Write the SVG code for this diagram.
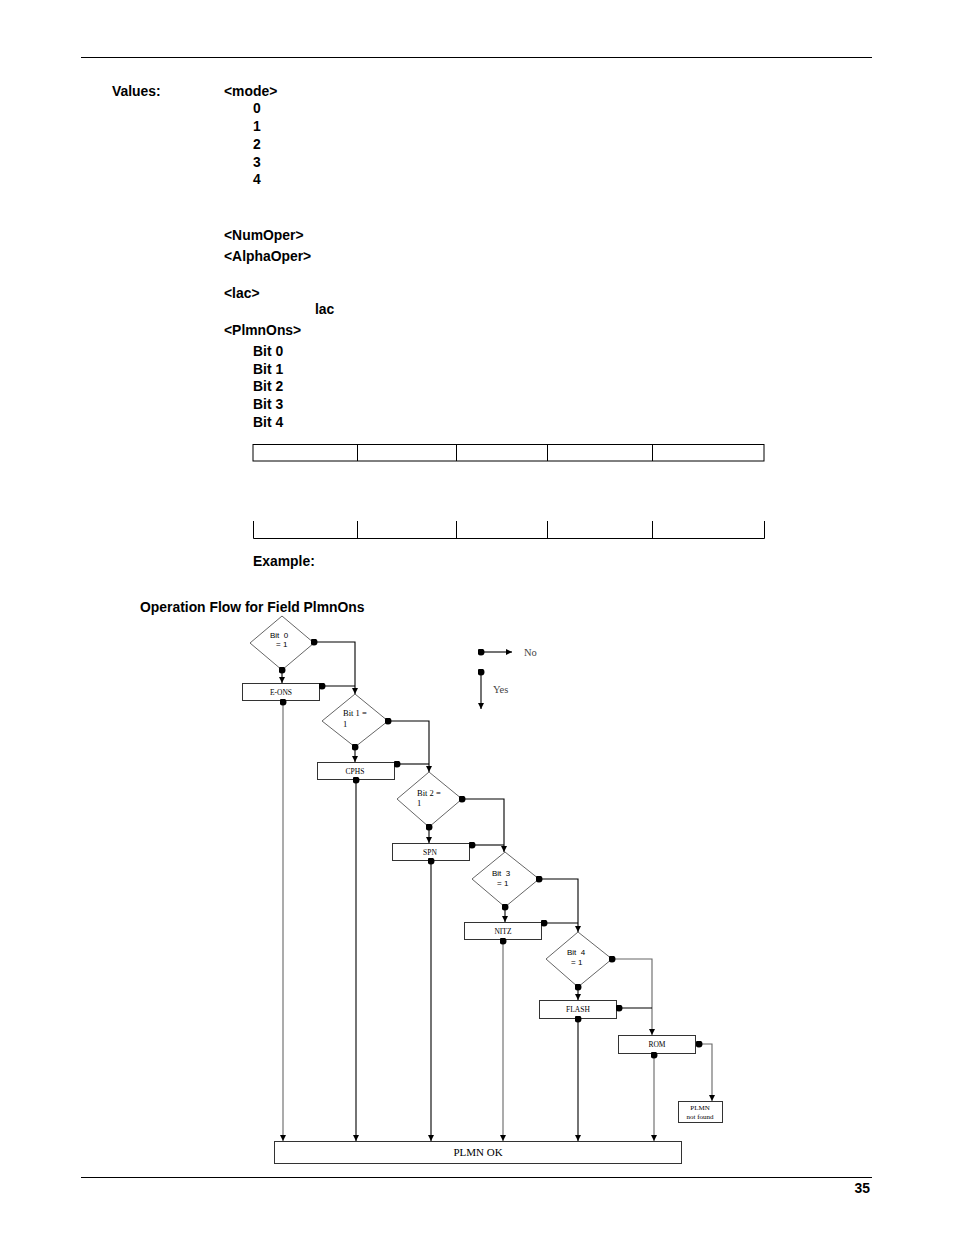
<svg xmlns="http://www.w3.org/2000/svg" width="954" height="1235" viewBox="0 0 954 1235">
<style>
.b{font-family:"Liberation Sans",Arial,sans-serif;font-weight:bold;font-size:13.9px;fill:#000}
.box{fill:#fff;stroke:#333;stroke-width:1}
.dia{fill:#fff;stroke:#666;stroke-width:1}
.bt{font-family:"Liberation Serif","Times New Roman",serif;font-size:7.5px;fill:#000;text-anchor:middle}
.ds{font-family:"Liberation Sans",Arial,sans-serif;font-size:8px;fill:#000;white-space:pre}
.dsr{font-family:"Liberation Serif","Times New Roman",serif;font-size:8.5px;fill:#000}
.lg{font-family:"Liberation Serif","Times New Roman",serif;font-size:10.5px;fill:#444}
.c{fill:none;stroke:#000;stroke-width:1.1}
.g{stroke:#666}
.t{fill:none;stroke:#000;stroke-width:1}
</style>
<defs>
<marker id="arr" viewBox="0 0 6 6" refX="6" refY="3" markerWidth="6" markerHeight="6" markerUnits="userSpaceOnUse" orient="auto"><path d="M0,0 L6,3 L0,6 z" fill="#000"/></marker>
<marker id="dot" viewBox="0 0 8 8" refX="4" refY="4" markerWidth="7" markerHeight="7" markerUnits="userSpaceOnUse" orient="auto"><circle cx="4" cy="4" r="4" fill="#000"/></marker>
</defs>
<rect width="954" height="1235" fill="#fff"/>
<g id="page">
<line x1="81" y1="57.5" x2="872" y2="57.5" stroke="#000" stroke-width="1.2"/>
<line x1="81" y1="1177.5" x2="872" y2="1177.5" stroke="#000" stroke-width="1.2"/>
<text class="b" x="870" y="1193" text-anchor="end">35</text>
<text class="b" x="112" y="96">Values:</text>
<text class="b" x="224" y="96">&lt;mode&gt;</text>
<text class="b" x="253" y="113">0</text>
<text class="b" x="253" y="131">1</text>
<text class="b" x="253" y="149">2</text>
<text class="b" x="253" y="167">3</text>
<text class="b" x="253" y="184">4</text>
<text class="b" x="224" y="240">&lt;NumOper&gt;</text>
<text class="b" x="224" y="261">&lt;AlphaOper&gt;</text>
<text class="b" x="224" y="298">&lt;lac&gt;</text>
<text class="b" x="315" y="314">lac</text>
<text class="b" x="224" y="335">&lt;PlmnOns&gt;</text>
<text class="b" x="253" y="356">Bit 0</text>
<text class="b" x="253" y="374">Bit 1</text>
<text class="b" x="253" y="391">Bit 2</text>
<text class="b" x="253" y="409">Bit 3</text>
<text class="b" x="253" y="427">Bit 4</text>
<rect class="t" x="253" y="444.5" width="511" height="16.5"/>
<path class="t" d="M357.5,444.5V461 M456.5,444.5V461 M547.5,444.5V461 M652.5,444.5V461"/>
<path class="t" d="M253.5,521V538.5H764.5V521 M357.5,521V538.5 M456.5,521V538.5 M547.5,521V538.5 M652.5,521V538.5"/>
<text class="b" x="253" y="566">Example:</text>
<text class="b" x="140" y="612">Operation Flow for Field PlmnOns</text>
</g>
<g id="legend">
<text class="lg" x="524" y="656">No</text>
<text class="lg" x="493" y="693">Yes</text>
</g>
<g id="bit0">
<polygon class="dia" points="282,616 314,643 282,670 250,643"/>
<text class="ds" x="270" y="638">Bit  0</text>
<text class="ds" x="276" y="647">= 1</text>
</g>
<g id="eons">
<rect class="box" x="242.5" y="683.5" width="77" height="17"/>
<text class="bt" x="281" y="694.5">E-ONS</text>
</g>
<g id="bit1">
<polygon class="dia" points="355,694 388,721 355,747 322,721"/>
<text class="dsr" x="343" y="716">Bit 1 =</text>
<text class="dsr" x="343" y="727">1</text>
</g>
<g id="cphs">
<rect class="box" x="317.5" y="762.5" width="77" height="17"/>
<text class="bt" x="355" y="773.5">CPHS</text>
</g>
<g id="bit2">
<polygon class="dia" points="429,772 462,799 429,827 397,799"/>
<text class="dsr" x="417" y="796">Bit 2 =</text>
<text class="dsr" x="417" y="806">1</text>
</g>
<g id="spn">
<rect class="box" x="392.5" y="843.5" width="77" height="17"/>
<text class="bt" x="430" y="854.5">SPN</text>
</g>
<g id="bit3">
<polygon class="dia" points="505,852 539,879 505,907 472,879"/>
<text class="ds" x="492" y="876">Bit  3</text>
<text class="ds" x="497" y="886">= 1</text>
</g>
<g id="nitz">
<rect class="box" x="464.5" y="922.5" width="77" height="17"/>
<text class="bt" x="503" y="933.5">NITZ</text>
</g>
<g id="bit4">
<polygon class="dia" points="578,932 612,959 578,987 546,959"/>
<text class="ds" x="567" y="955">Bit  4</text>
<text class="ds" x="571" y="965">= 1</text>
</g>
<g id="flash">
<rect class="box" x="539.5" y="1000.5" width="77" height="18"/>
<text class="bt" x="578" y="1012">FLASH</text>
</g>
<g id="rom">
<rect class="box" x="618.5" y="1035.5" width="77" height="18"/>
<text class="bt" x="657" y="1047">ROM</text>
</g>
<g id="plmn-not-found">
<rect class="box" x="678.5" y="1101.5" width="44" height="21"/>
<text class="bt" x="700" y="1110" style="font-size:7px">PLMN</text>
<text class="bt" x="700" y="1119" style="font-size:7px">not found</text>
</g>
<g id="plmn-ok">
<rect class="box" x="274.5" y="1141.5" width="407" height="22"/>
<text class="bt" x="478" y="1156" style="font-size:11px">PLMN OK</text>
</g>
<g id="connectors">
<path class="c" d="M282,670V683" marker-start="url(#dot)" marker-end="url(#arr)"/>
<path class="c" d="M314,642H355V694" marker-start="url(#dot)" marker-end="url(#arr)"/>
<path class="c" d="M322,686H355" marker-start="url(#dot)"/>
<path class="c g" d="M283,702V1141" marker-start="url(#dot)" marker-end="url(#arr)"/>
<path class="c" d="M355,747V762" marker-start="url(#dot)" marker-end="url(#arr)"/>
<path class="c" d="M388,721H429V772" marker-start="url(#dot)" marker-end="url(#arr)"/>
<path class="c" d="M397,764H429" marker-start="url(#dot)"/>
<path class="c" d="M356,780V1141" marker-start="url(#dot)" marker-end="url(#arr)"/>
<path class="c" d="M429,827V843" marker-start="url(#dot)" marker-end="url(#arr)"/>
<path class="c" d="M462,799H504V852" marker-start="url(#dot)" marker-end="url(#arr)"/>
<path class="c" d="M472,845H504" marker-start="url(#dot)"/>
<path class="c" d="M431,861V1141" marker-start="url(#dot)" marker-end="url(#arr)"/>
<path class="c" d="M505,907V922" marker-start="url(#dot)" marker-end="url(#arr)"/>
<path class="c" d="M539,879H578V932" marker-start="url(#dot)" marker-end="url(#arr)"/>
<path class="c" d="M544,923H578" marker-start="url(#dot)"/>
<path class="c g" d="M503,941V1141" marker-start="url(#dot)" marker-end="url(#arr)"/>
<path class="c" d="M578,987V1000" marker-start="url(#dot)" marker-end="url(#arr)"/>
<path class="c g" d="M612,959H652V1035" marker-start="url(#dot)" marker-end="url(#arr)"/>
<path class="c" d="M619,1008H652" marker-start="url(#dot)"/>
<path class="c" d="M578,1019V1141" marker-start="url(#dot)" marker-end="url(#arr)"/>
<path class="c g" d="M699,1044H712V1101" marker-start="url(#dot)" marker-end="url(#arr)"/>
<path class="c g" d="M654,1055V1141" marker-start="url(#dot)" marker-end="url(#arr)"/>
<path class="c" d="M481,652H512" marker-start="url(#dot)" marker-end="url(#arr)"/>
<path class="c" d="M481,672V709" marker-start="url(#dot)" marker-end="url(#arr)"/>
</g>
</svg>
